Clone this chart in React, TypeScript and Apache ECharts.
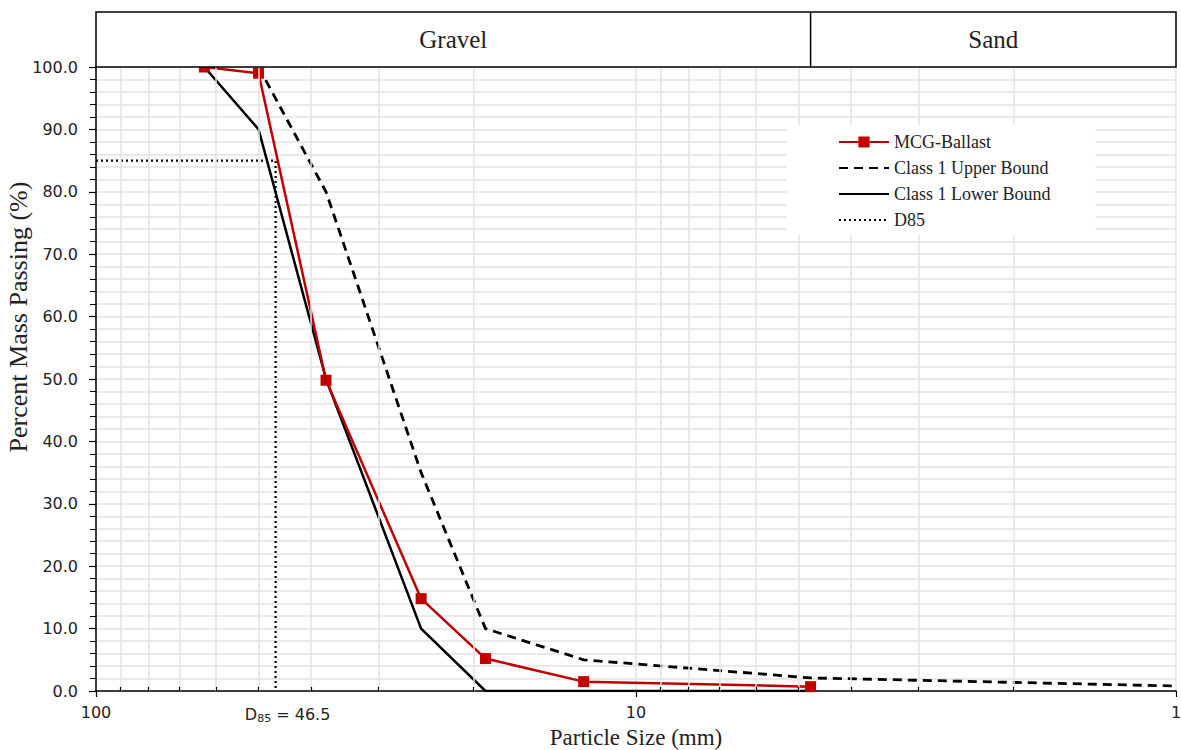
import React, { useEffect, useRef } from "react";
import * as echarts from "echarts";

// Particle sizes (mm) and percent passing
const mcgSizes = [63, 50, 37.5, 25, 19, 12.5, 4.75];
const mcgPassing = [100, 99, 49.8, 14.8, 5.2, 1.5, 0.7];

const upperSizes = [50, 37.5, 25, 19, 12.5, 4.75, 1];
const upperPassing = [100, 80, 35, 10, 5, 2.1, 0.8];

const lowerSizes = [63, 50, 37.5, 25, 19, 4.75];
const lowerPassing = [100, 90, 50, 10, 0, 0];

const d85Size = 46.5;
const d85Passing = 85;

const xMin = 1;
const xMax = 100;
const sandBoundary = 4.75;
const minorGridSizes = [90, 80, 70, 60, 50, 40, 30, 20, 9, 8, 7, 6, 5, 4, 3, 2];

const zones = ["Gravel", "Sand"];
const legendNames = ["MCG-Ballast", "Class 1 Upper Bound", "Class 1 Lower Bound", "D85"];
const xTitle = "Particle Size (mm)";
const yTitle = "Percent Mass Passing (%)";

const serif = "'Liberation Serif', 'Times New Roman', serif";
const sans = "'DejaVu Sans', Verdana, sans-serif";

const zip = (xs: number[], ys: number[]) => xs.map((x, i) => [x, ys[i]]);

export default function App() {
  const ref = useRef<HTMLDivElement>(null);

  useEffect(() => {
    if (!ref.current) return;
    const chart = echarts.init(ref.current, null, { renderer: "svg" });

    const option: any = {
      animation: false,
      backgroundColor: "#ffffff",
      grid: {
        left: 96,
        right: 5,
        top: 67,
        bottom: 59,
        containLabel: false,
        outerBoundsMode: "none",
      },
      legend: {
        data: legendNames.map((n, i) =>
          i === 0 ? { name: n } : { name: n, itemStyle: { opacity: 0 } }
        ),
        orient: "vertical",
        left: 787,
        top: 125,
        padding: [8, 45, 6, 51],
        backgroundColor: "#ffffff",
        itemWidth: 50,
        itemHeight: 14,
        itemGap: 8,
        textStyle: { fontFamily: serif, fontSize: 18, color: "#222" },
        selectedMode: false,
        z: 20,
      },
      xAxis: {
        type: "log",
        logBase: 10,
        min: xMin,
        max: xMax,
        inverse: true,
        axisLine: { show: true, lineStyle: { color: "#000", width: 1.5 } },
        axisTick: { show: true, length: 6, lineStyle: { color: "#000", width: 1.2 } },
        axisLabel: {
          fontFamily: sans,
          fontSize: 16,
          color: "#222",
          margin: 13,
          formatter: (v: number) => String(Math.round(v)),
        },
        splitLine: { show: true, lineStyle: { color: "#e3e3e3", width: 1.5 } },
      },
      yAxis: {
        type: "value",
        min: 0,
        max: 100,
        interval: 10,
        axisLine: { show: true, lineStyle: { color: "#000", width: 1.5 } },
        axisTick: { show: true, length: 7, lineStyle: { color: "#000", width: 1.2 } },
        minorTick: { show: true, splitNumber: 5, length: 6, lineStyle: { color: "#000", width: 1 } },
        axisLabel: {
          fontFamily: sans,
          fontSize: 16,
          color: "#222",
          margin: 18,
          formatter: (v: number) => v.toFixed(1),
        },
        splitLine: { show: true, lineStyle: { color: "#e3e3e3", width: 1.5 } },
        minorSplitLine: { show: true, lineStyle: { color: "#e3e3e3", width: 1.5 } },
      },
      series: [
        {
          name: "grid",
          type: "line",
          data: [],
          z: 1,
          silent: true,
          markLine: {
            silent: true,
            symbol: ["none", "none"],
            label: { show: false },
            emphasis: { disabled: true },
            animation: false,
            data: [
              ...minorGridSizes.map((v) => ({
                xAxis: v,
                lineStyle: { color: "#e3e3e3", width: 1.5, type: "solid" },
              })),
              ...minorGridSizes.map((v) => [
                { coord: [v, 0], lineStyle: { color: "#000", width: 1.2, type: "solid" } },
                { coord: [v, 0.65] },
              ]),
            ],
          },
        },
        {
          name: "Class 1 Upper Bound",
          type: "line",
          data: zip(upperSizes, upperPassing),
          symbol: "none",
          z: 3,
          lineStyle: { color: "#000", width: 2.8, type: [9, 6] },
          itemStyle: { color: "#000" },
        },
        {
          name: "Class 1 Lower Bound",
          type: "line",
          data: zip(lowerSizes, lowerPassing),
          symbol: "none",
          z: 3,
          lineStyle: { color: "#000", width: 2.5, type: "solid" },
          itemStyle: { color: "#000" },
        },
        {
          name: "D85",
          type: "line",
          data: [
            [xMax, d85Passing],
            [d85Size, d85Passing],
            [d85Size, 0],
          ],
          symbol: "none",
          z: 3,
          lineStyle: { color: "#000", width: 2.2, type: [2, 3] },
          itemStyle: { color: "#000" },
        },
        {
          name: "MCG-Ballast",
          type: "line",
          data: zip(mcgSizes, mcgPassing),
          symbol: "rect",
          symbolSize: 11,
          z: 4,
          lineStyle: { color: "#C00000", width: 2.5 },
          itemStyle: { color: "#C00000" },
        },
      ],
    };

    chart.setOption(option);

    const px = (v: number) => chart.convertToPixel({ xAxisIndex: 0 }, v) as number;
    const py = (v: number) => chart.convertToPixel({ yAxisIndex: 0 }, v) as number;
    const left = px(xMax);
    const right = px(xMin);
    const split = px(sandBoundary);
    const top = 12;
    const bottom = py(100);
    const yBase = py(0);

    chart.setOption({
      graphic: [
        {
          type: "rect",
          z: 100,
          shape: { x: left, y: top, width: right - left, height: bottom - top },
          style: { fill: "#ffffff", stroke: "#000", lineWidth: 1.5 },
          silent: true,
        },
        {
          type: "line",
          z: 101,
          shape: { x1: split, y1: top, x2: split, y2: bottom },
          style: { stroke: "#000", lineWidth: 1.5 },
          silent: true,
        },
        {
          type: "text",
          z: 102,
          x: (left + split) / 2,
          y: (top + bottom) / 2,
          style: {
            text: zones[0],
            fontFamily: serif,
            fontSize: 25,
            fill: "#222",
            align: "center",
            verticalAlign: "middle",
          },
          silent: true,
        },
        {
          type: "text",
          z: 102,
          x: (split + right) / 2,
          y: (top + bottom) / 2,
          style: {
            text: zones[1],
            fontFamily: serif,
            fontSize: 25,
            fill: "#222",
            align: "center",
            verticalAlign: "middle",
          },
          silent: true,
        },
        {
          type: "text",
          z: 102,
          x: (left + right) / 2,
          y: yBase + 46,
          style: {
            text: xTitle,
            fontFamily: serif,
            fontSize: 23,
            fill: "#222",
            align: "center",
            verticalAlign: "middle",
          },
          silent: true,
        },
        {
          type: "text",
          z: 102,
          x: 18,
          y: 317,
          rotation: Math.PI / 2,
          style: {
            text: yTitle,
            fontFamily: serif,
            fontSize: 26,
            fill: "#222",
            align: "center",
            verticalAlign: "middle",
          },
          silent: true,
        },
        {
          type: "text",
          z: 102,
          x: px(d85Size) + 12,
          y: yBase + 23,
          style: {
            text: "{a|D}{b|85}{a| = " + d85Size.toFixed(1) + "}",
            align: "center",
            verticalAlign: "middle",
            rich: {
              a: { fontFamily: sans, fontSize: 16, fill: "#222", color: "#222" },
              b: { fontFamily: sans, fontSize: 11, fill: "#222", color: "#222", padding: [8, 0, 0, 0] },
            },
          },
          silent: true,
        },
      ],
    });

    return () => chart.dispose();
  }, []);

  return (
    <div
      ref={ref}
      style={{ position: "fixed", left: 0, top: 0, width: 1181, height: 750, background: "#fff" }}
    />
  );
}
